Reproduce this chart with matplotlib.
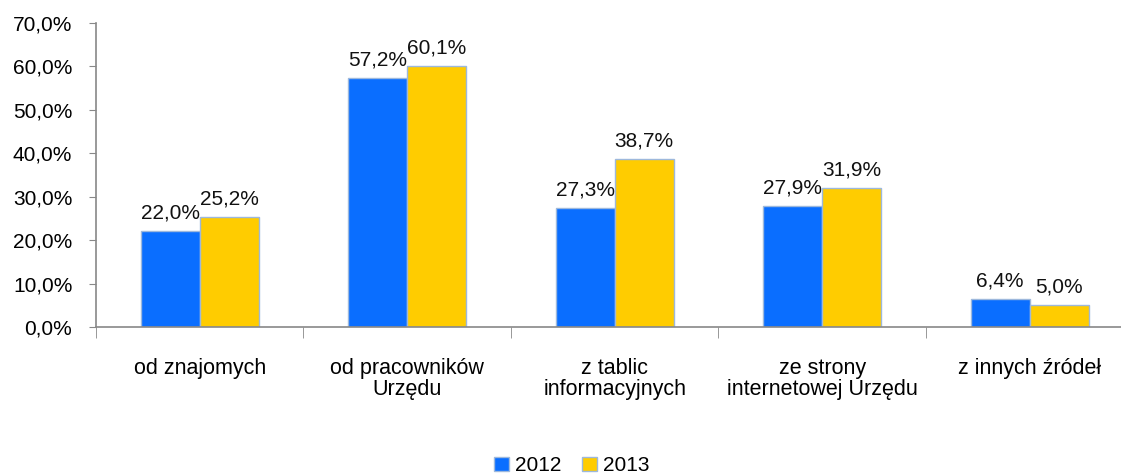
import numpy as np
import matplotlib.pyplot as plt
from matplotlib.ticker import FuncFormatter

plt.rcParams['font.family'] = ['Liberation Sans', 'DejaVu Sans']

categories = ["od znajomych", "od pracowników\nUrzędu", "z tablic\ninformacyjnych",
              "ze strony\ninternetowej Urzędu", "z innych źródeł"]
years = ["2012", "2013"]
values_2012 = [22.0, 57.2, 27.3, 27.9, 6.4]
values_2013 = [25.2, 60.1, 38.7, 31.9, 5.0]

colors = ["#0A6EFF", "#FFCC00"]
edge = "#9DB8DC"

fig = plt.figure(figsize=(11.21, 4.75), dpi=100)
ax = fig.add_axes([0.0856, 0.3116, 0.9255, 0.6406])

x = np.arange(len(categories))
w = 0.285
for i, (vals, col, lab) in enumerate(zip([values_2012, values_2013], colors, years)):
    pos = x + (i - 0.5) * w
    ax.bar(pos, vals, width=w, color=col, edgecolor=edge, linewidth=1.0, label=lab)
    for p, v in zip(pos, vals):
        ax.text(p, v + 2.0, f"{v:.1f}%".replace(".", ","), ha="center", va="bottom",
                fontsize=15, color="#111111")

ax.set_xlim(-0.5, len(categories) - 0.5)
ax.set_ylim(0, 70)
ax.set_yticks(np.arange(0, 71, 10))
ax.yaxis.set_major_formatter(FuncFormatter(lambda v, _: f"{v:.1f}%".replace(".", ",")))
ax.tick_params(axis="y", labelsize=15, length=5, color="#888888", pad=12)

ax.set_xticks(x)
ax.set_xticklabels(categories, fontsize=15.5, linespacing=1.05)
ax.tick_params(axis="x", length=0, pad=22)
ax.set_xticks(np.arange(-0.5, len(categories)), minor=True)
ax.tick_params(axis="x", which="minor", length=8, color="#888888")

for s in ["top", "right"]:
    ax.spines[s].set_visible(False)
for s in ["left", "bottom"]:
    ax.spines[s].set_color("#888888")
    ax.spines[s].set_linewidth(1.2)

fig.legend(loc="lower center", bbox_to_anchor=(0.51, -0.04), ncol=2, frameon=False,
           fontsize=15, handlelength=0.7, handleheight=0.7, handletextpad=0.3,
           columnspacing=1.0)

fig.savefig("out.png", dpi=100)
